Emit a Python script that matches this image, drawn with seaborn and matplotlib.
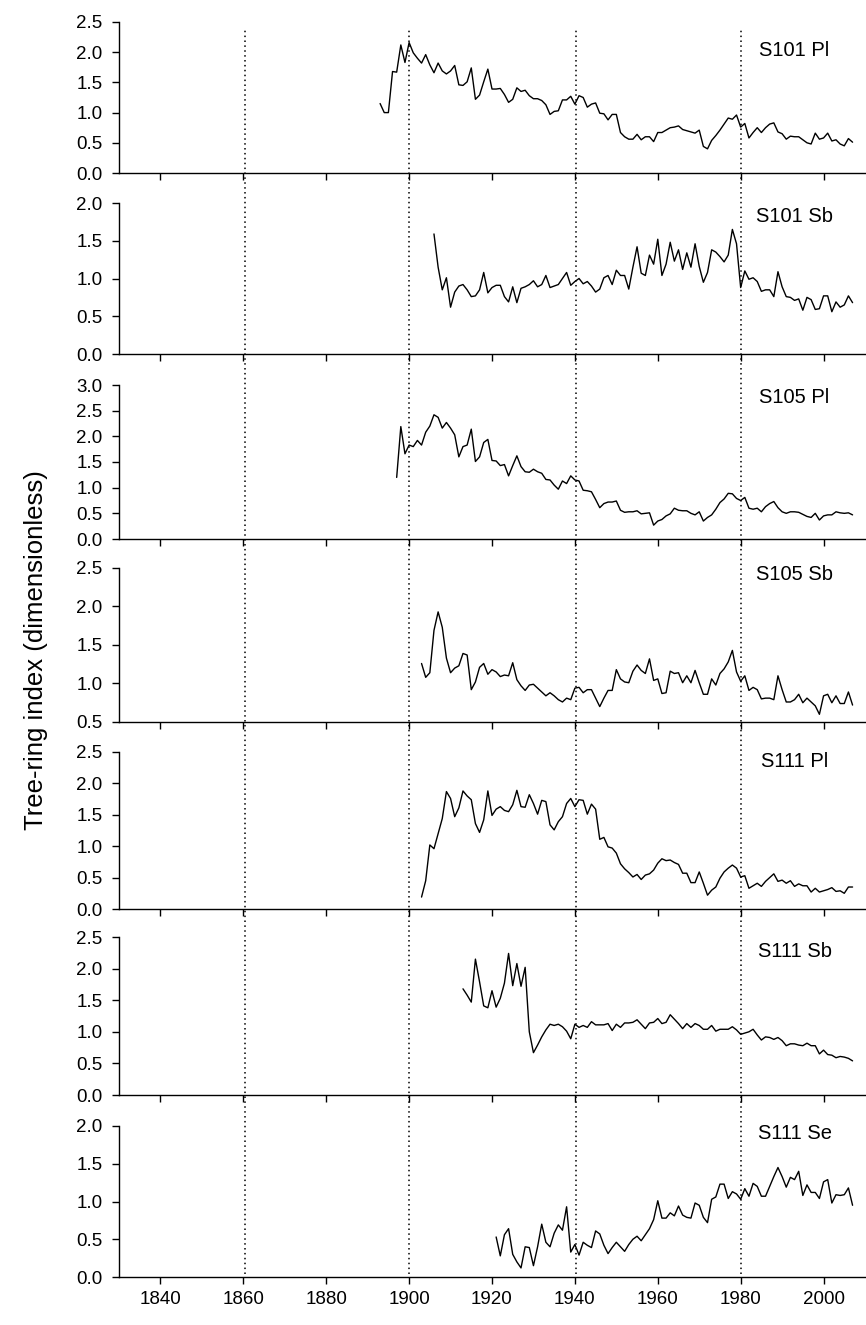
import numpy as np
import matplotlib
matplotlib.use('Agg')
import matplotlib.pyplot as plt
import matplotlib.transforms as mtransforms
import seaborn as sns

# tree-ring index series, one value per year
s101_pl_start = 1893
s101_pl = [1.15, 1.00, 1.00, 1.68, 1.67, 2.12, 1.83,
           2.16, 1.99, 1.90, 1.82, 1.96, 1.79, 1.66, 1.82, 1.69, 1.64,
           1.69, 1.78, 1.46, 1.45, 1.51, 1.74, 1.22, 1.29, 1.51, 1.72,
           1.39, 1.39, 1.40, 1.30, 1.17, 1.22, 1.41, 1.35, 1.37, 1.28,
           1.23, 1.23, 1.20, 1.13, 0.97, 1.02, 1.03, 1.21, 1.21, 1.27,
           1.14, 1.28, 1.25, 1.09, 1.14, 1.16, 0.99, 0.98, 0.88, 0.97,
           0.97, 0.67, 0.60, 0.56, 0.56, 0.64, 0.55, 0.60, 0.60, 0.52,
           0.67, 0.67, 0.71, 0.75, 0.76, 0.78, 0.72, 0.70, 0.68, 0.66,
           0.71, 0.44, 0.40, 0.54, 0.62, 0.71, 0.81, 0.91, 0.89, 0.96,
           0.76, 0.82, 0.58, 0.67, 0.75, 0.67, 0.75, 0.81, 0.83, 0.68,
           0.65, 0.56, 0.61, 0.60, 0.60, 0.55, 0.50, 0.48, 0.66, 0.56,
           0.58, 0.66, 0.53, 0.55, 0.48, 0.45, 0.57, 0.51]

s101_sb_start = 1906
s101_sb = [1.59, 1.15, 0.85, 1.01,
           0.62, 0.82, 0.90, 0.92, 0.85, 0.76, 0.77, 0.85, 1.08, 0.81,
           0.88, 0.91, 0.91, 0.76, 0.69, 0.89, 0.68, 0.87, 0.89, 0.92,
           0.97, 0.89, 0.92, 1.04, 0.88, 0.90, 0.92, 1.00, 1.08, 0.91,
           0.96, 1.00, 0.93, 0.96, 0.90, 0.82, 0.86, 1.01, 1.04, 0.92,
           1.11, 1.04, 1.04, 0.86, 1.15, 1.42, 1.07, 1.04, 1.31, 1.19,
           1.52, 1.04, 1.19, 1.48, 1.23, 1.38, 1.12, 1.34, 1.15, 1.46,
           1.16, 0.95, 1.08, 1.38, 1.35, 1.29, 1.22, 1.31, 1.65, 1.46,
           0.88, 1.10, 0.99, 1.01, 0.96, 0.83, 0.85, 0.85, 0.76, 1.09,
           0.89, 0.76, 0.75, 0.71, 0.73, 0.58, 0.75, 0.72, 0.59, 0.60,
           0.77, 0.77, 0.56, 0.69, 0.62, 0.65, 0.77, 0.68]

s105_pl_start = 1897
s105_pl = [1.20, 2.19, 1.66,
           1.83, 1.80, 1.92, 1.83, 2.08, 2.20, 2.42, 2.37, 2.16, 2.27,
           2.16, 2.03, 1.60, 1.80, 1.83, 2.14, 1.51, 1.60, 1.88, 1.94,
           1.53, 1.52, 1.43, 1.45, 1.23, 1.43, 1.62, 1.41, 1.31, 1.30,
           1.36, 1.31, 1.28, 1.16, 1.15, 1.05, 0.97, 1.13, 1.08, 1.23,
           1.15, 1.13, 0.95, 0.94, 0.92, 0.77, 0.61, 0.69, 0.72, 0.72,
           0.74, 0.56, 0.52, 0.53, 0.53, 0.55, 0.49, 0.50, 0.51, 0.27,
           0.35, 0.38, 0.45, 0.49, 0.60, 0.56, 0.55, 0.55, 0.50, 0.47,
           0.53, 0.35, 0.42, 0.47, 0.58, 0.71, 0.78, 0.89, 0.88, 0.79,
           0.75, 0.81, 0.60, 0.58, 0.60, 0.53, 0.63, 0.69, 0.73, 0.61,
           0.53, 0.50, 0.53, 0.53, 0.52, 0.48, 0.44, 0.42, 0.50, 0.37,
           0.45, 0.47, 0.47, 0.53, 0.51, 0.50, 0.51, 0.47]

s105_sb_start = 1903
s105_sb = [1.26, 1.08, 1.14, 1.69, 1.93, 1.73, 1.33,
           1.14, 1.20, 1.23, 1.39, 1.37, 0.92, 1.02, 1.21, 1.26, 1.12,
           1.18, 1.15, 1.09, 1.11, 1.10, 1.27, 1.05, 0.97, 0.91, 0.98,
           0.99, 0.94, 0.89, 0.84, 0.88, 0.84, 0.79, 0.76, 0.81, 0.79,
           0.94, 0.95, 0.88, 0.92, 0.92, 0.81, 0.70, 0.81, 0.91, 0.91,
           1.18, 1.06, 1.02, 1.01, 1.16, 1.24, 1.17, 1.13, 1.32, 1.04,
           1.06, 0.87, 0.88, 1.16, 1.13, 1.14, 1.01, 1.10, 1.01, 1.17,
           1.01, 0.86, 0.86, 1.06, 0.98, 1.13, 1.19, 1.28, 1.43, 1.15,
           1.03, 1.10, 0.91, 0.95, 0.92, 0.80, 0.81, 0.81, 0.79, 1.10,
           0.92, 0.76, 0.76, 0.79, 0.86, 0.75, 0.81, 0.76, 0.71, 0.60,
           0.84, 0.86, 0.75, 0.84, 0.74, 0.74, 0.89, 0.72]

s111_pl_start = 1903
s111_pl = [0.19, 0.45, 1.02, 0.96, 1.20, 1.44, 1.87,
           1.76, 1.47, 1.61, 1.88, 1.80, 1.74, 1.36, 1.22, 1.42, 1.88,
           1.49, 1.59, 1.63, 1.57, 1.55, 1.66, 1.89, 1.63, 1.62, 1.82,
           1.68, 1.51, 1.73, 1.71, 1.34, 1.26, 1.39, 1.47, 1.68, 1.76,
           1.63, 1.74, 1.73, 1.51, 1.67, 1.59, 1.11, 1.14, 0.99, 0.97,
           0.89, 0.72, 0.64, 0.58, 0.51, 0.55, 0.47, 0.54, 0.56, 0.62,
           0.73, 0.80, 0.77, 0.78, 0.74, 0.71, 0.57, 0.57, 0.42, 0.42,
           0.59, 0.41, 0.22, 0.30, 0.35, 0.49, 0.59, 0.65, 0.70, 0.65,
           0.51, 0.53, 0.33, 0.37, 0.41, 0.36, 0.44, 0.50, 0.56, 0.44,
           0.46, 0.41, 0.45, 0.36, 0.40, 0.37, 0.37, 0.27, 0.33, 0.27,
           0.29, 0.31, 0.34, 0.28, 0.29, 0.25, 0.35, 0.35]

s111_sb_start = 1913
s111_sb = [1.68, 1.58, 1.47, 2.15, 1.79, 1.41, 1.38,
           1.65, 1.39, 1.53, 1.77, 2.24, 1.73, 2.08, 1.72, 2.02, 1.00,
           0.67, 0.79, 0.92, 1.03, 1.12, 1.10, 1.12, 1.08, 1.01, 0.89,
           1.12, 1.07, 1.10, 1.07, 1.16, 1.11, 1.11, 1.11, 1.13, 1.02,
           1.12, 1.07, 1.14, 1.14, 1.15, 1.19, 1.12, 1.05, 1.14, 1.15,
           1.21, 1.13, 1.15, 1.27, 1.20, 1.13, 1.05, 1.13, 1.07, 1.13,
           1.10, 1.04, 1.04, 1.10, 1.01, 1.04, 1.04, 1.04, 1.08, 1.03,
           0.96, 0.98, 1.00, 1.04, 0.95, 0.87, 0.92, 0.91, 0.88, 0.91,
           0.86, 0.78, 0.81, 0.81, 0.79, 0.78, 0.82, 0.78, 0.78, 0.65,
           0.71, 0.64, 0.63, 0.59, 0.61, 0.60, 0.58, 0.54]

s111_se_start = 1921
s111_se = [0.53, 0.28, 0.56, 0.64, 0.30, 0.20, 0.12, 0.40, 0.39,
           0.15, 0.40, 0.70, 0.46, 0.40, 0.58, 0.69, 0.62, 0.93, 0.33,
           0.43, 0.29, 0.46, 0.42, 0.39, 0.61, 0.57, 0.42, 0.31, 0.39,
           0.46, 0.40, 0.34, 0.43, 0.50, 0.54, 0.48, 0.56, 0.64, 0.76,
           1.01, 0.78, 0.78, 0.85, 0.81, 0.94, 0.82, 0.79, 0.78, 0.98,
           0.95, 0.79, 0.72, 1.03, 1.06, 1.23, 1.23, 1.04, 1.13, 1.10,
           1.03, 1.17, 1.07, 1.24, 1.20, 1.07, 1.07, 1.20, 1.33, 1.45,
           1.33, 1.19, 1.32, 1.29, 1.40, 1.08, 1.22, 1.12, 1.12, 1.04,
           1.26, 1.29, 0.98, 1.09, 1.08, 1.09, 1.18, 0.95]

labels = ['S101 Pl', 'S101 Sb', 'S105 Pl', 'S105 Sb', 'S111 Pl', 'S111 Sb', 'S111 Se']
starts = [s101_pl_start, s101_sb_start, s105_pl_start, s105_sb_start,
          s111_pl_start, s111_sb_start, s111_se_start]
series = [s101_pl, s101_sb, s105_pl, s105_sb, s111_pl, s111_sb, s111_se]
ylims = [(0, 2.5), (0, 2.0), (0, 3.0), (0.5, 2.5), (0, 2.5), (0, 2.5), (0, 2.0)]
ref_years = [1860.4, 1900, 1940.2, 1980]
xticks = list(range(1840, 2001, 20))

sns.set_style('ticks')
plt.rcParams['font.family'] = ['Liberation Sans', 'DejaVu Sans']
plt.rcParams['text.color'] = 'black'
plt.rcParams['axes.edgecolor'] = 'black'

W, H = 866, 1325
fig = plt.figure(figsize=(W / 100, H / 100), dpi=100)

# pixel extents of each panel (top, bottom)
panel_px = [(22, 173), (203, 354), (385, 539), (568, 722), (752, 909), (937, 1095), (1126, 1277)]
label_y = [0.81, 0.91, 0.92, 0.955, 0.94, 0.91, 0.95]
left_px, right_px = 119, 865

for i in range(7):
    top, bot = panel_px[i]
    ax = fig.add_axes([left_px / W, 1 - bot / H, (right_px - left_px) / W, (bot - top) / H])
    yrs = np.arange(starts[i], starts[i] + len(series[i]))
    sns.lineplot(x=yrs, y=series[i], ax=ax, color='black', lw=1.0)
    ax.set_xlim(1830, 2010)
    ax.set_ylim(*ylims[i])
    ax.set_yticks(np.arange(ylims[i][0], ylims[i][1] + 0.01, 0.5))
    ax.yaxis.set_major_formatter(matplotlib.ticker.FormatStrFormatter('%.1f'))
    ax.set_xticks(xticks)
    if i < 6:
        ax.set_xticklabels([])
    ax.set_xlabel('')
    ax.set_ylabel('')
    for s in ['top', 'right']:
        ax.spines[s].set_visible(False)
    for s in ['left', 'bottom']:
        ax.spines[s].set_linewidth(1.0)
        ax.spines[s].set_color('black')
    ax.tick_params(direction='out', length=5, width=1.0, labelsize=13.5, colors='black')
    ax.tick_params(axis='y', pad=7)
    ax.tick_params(axis='x', pad=5)
    ax.set_facecolor('none')
    trans = mtransforms.blended_transform_factory(ax.transData, ax.transAxes)
    ax.text(1993, label_y[i], labels[i], transform=trans, ha='center', va='center',
            fontsize=14.5, color='black')

# dotted reference years across all panels
ov = fig.add_axes([left_px / W, 1 - 1274 / H, (right_px - left_px) / W, (1274 - 30) / H])
ov.set_xlim(1830, 2010)
ov.set_ylim(0, 1)
ov.axis('off')
for yr in ref_years:
    ov.axvline(yr, color='black', lw=1.1, linestyle=(0, (1, 2.2)))

fig.text(36 / W, 1 - 650 / H, 'Tree-ring index (dimensionless)', rotation=90,
         ha='center', va='center', fontsize=18.5, color='black')

fig.savefig('out.png', dpi=100)
